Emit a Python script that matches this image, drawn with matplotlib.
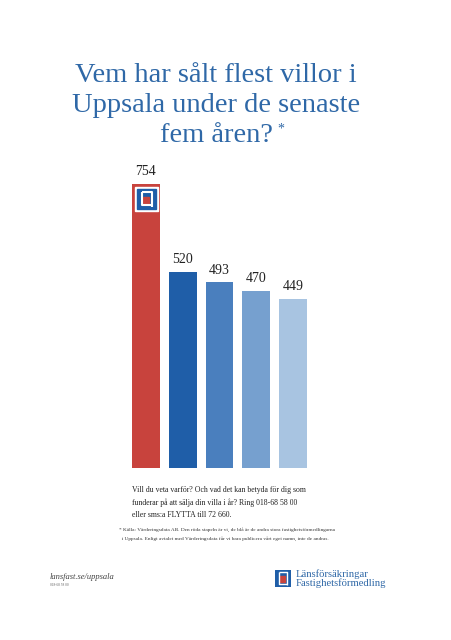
import matplotlib.pyplot as plt
from matplotlib.patches import Rectangle

# --- data ---
brokers = ["Länsförsäkringar", "Mäklare B", "Mäklare C", "Mäklare D", "Mäklare E"]
sold = [754, 520, 493, 470, 449]
bar_colors = ["#C8433D", "#1F5EA8", "#4A7FBE", "#76A0CF", "#A8C4E1"]

title_lines = ["Vem har sålt flest villor i", "Uppsala under de senaste", "fem åren?"]
body = ("Vill du veta varför? Och vad det kan betyda för dig som\n"
        "funderar på att sälja din villa i år? Ring 018-68 58 00\n"
        "eller sms:a FLYTTA till 72 660.")
note = ("* Källa: Värderingsdata AB. Den röda stapeln är vi, de blå är de andra stora fastighetsförmedlingarna\n"
        "  i Uppsala. Enligt avtalet med Värderingsdata får vi bara publicera vårt eget namn, inte de andras.")

SERIF = "Liberation Serif"
TITLE_BLUE = "#2F68A7"
W, H = 451, 640

fig = plt.figure(figsize=(W / 100, H / 100), dpi=100)
fig.patch.set_facecolor("white")

# bar axes placed in pixel terms
left_px, right_px = 127.6, 311.4
base_px, top_px = 468, 166.4
ax = fig.add_axes([left_px / W, 1 - base_px / H, (right_px - left_px) / W, (base_px - top_px) / H])
x = list(range(len(sold)))
ax.bar(x, sold, width=0.76, color=bar_colors)
ax.set_xlim(-0.5, len(sold) - 0.5)
ax.set_ylim(0, 800)
ax.axis("off")

for xi, v in zip(x, sold):
    ax.annotate(str(v), (xi, v), xytext=(0, 4), textcoords="offset points",
                ha="center", va="bottom", fontsize=10, family=SERIF, color="#222222")

# logo on the red bar
lx, ly, lw, lh = -0.30, 682, 0.63, 63
ax.add_patch(Rectangle((lx, ly), lw, lh, color="white"))
ax.add_patch(Rectangle((lx + 0.05, ly + 5), lw - 0.10, lh - 10, color="#1F5EA8"))
ax.plot([lx + 0.18, lx + 0.18, lx + 0.46], [ly + 50, ly + 15, ly + 15], color="white", lw=1.5, solid_capstyle="butt")
ax.plot([lx + 0.18, lx + 0.46, lx + 0.46], [ly + 50, ly + 50, ly + 11], color="white", lw=1.5, solid_capstyle="butt")
ax.add_patch(Rectangle((lx + 0.23, ly + 20), 0.15, 17, color="#C8433D"))

# title, one line at a time
for i, line in enumerate(title_lines):
    fig.text(216 / W, 1 - (76 + 30 * i) / H, line, ha="center", va="center", fontsize=20.5,
             family=SERIF, color=TITLE_BLUE)
fig.text(277 / W, 1 - 123 / H, "*", ha="left", va="top", fontsize=10, family=SERIF, color=TITLE_BLUE)

# body text
fig.text(132 / W, 1 - 486 / H, body, ha="left", va="top", fontsize=5.6,
         family=SERIF, color="#222222", linespacing=1.62)
fig.text(119 / W, 1 - 527 / H, note, ha="left", va="top", fontsize=3.75,
         family=SERIF, color="#333333", linespacing=2.4)

# footer
fig.text(50 / W, 1 - 577 / H, "lansfast.se/uppsala", ha="left", va="center", fontsize=6.1,
         family=SERIF, style="italic", color="#444444")
fig.text(50 / W, 1 - 585 / H, "018-68 58 00", ha="left", va="center", fontsize=2.5,
         family=SERIF, color="#666666")

# company logo bottom right
lax = fig.add_axes([275 / W, 1 - 587 / H, 16 / W, 17 / H])
lax.set_xlim(0, 1)
lax.set_ylim(0, 1)
lax.axis("off")
lax.add_patch(Rectangle((0, 0), 1, 1, color="#1F5EA8"))
lax.plot([0.22, 0.22, 0.78], [0.88, 0.15, 0.15], color="white", lw=1.0, solid_capstyle="butt")
lax.plot([0.22, 0.78, 0.78], [0.88, 0.88, 0.1], color="white", lw=1.0, solid_capstyle="butt")
lax.add_patch(Rectangle((0.3, 0.3), 0.35, 0.35, color="#C8433D"))
fig.text(296 / W, 1 - 574 / H, "Länsförsäkringar", ha="left", va="center",
         fontsize=7.7, family=SERIF, color="#2F68A7")
fig.text(296 / W, 1 - 583.5 / H, "Fastighetsförmedling", ha="left", va="center",
         fontsize=7.7, family=SERIF, color="#2F68A7")

fig.savefig("out.png", dpi=100, facecolor="white")
